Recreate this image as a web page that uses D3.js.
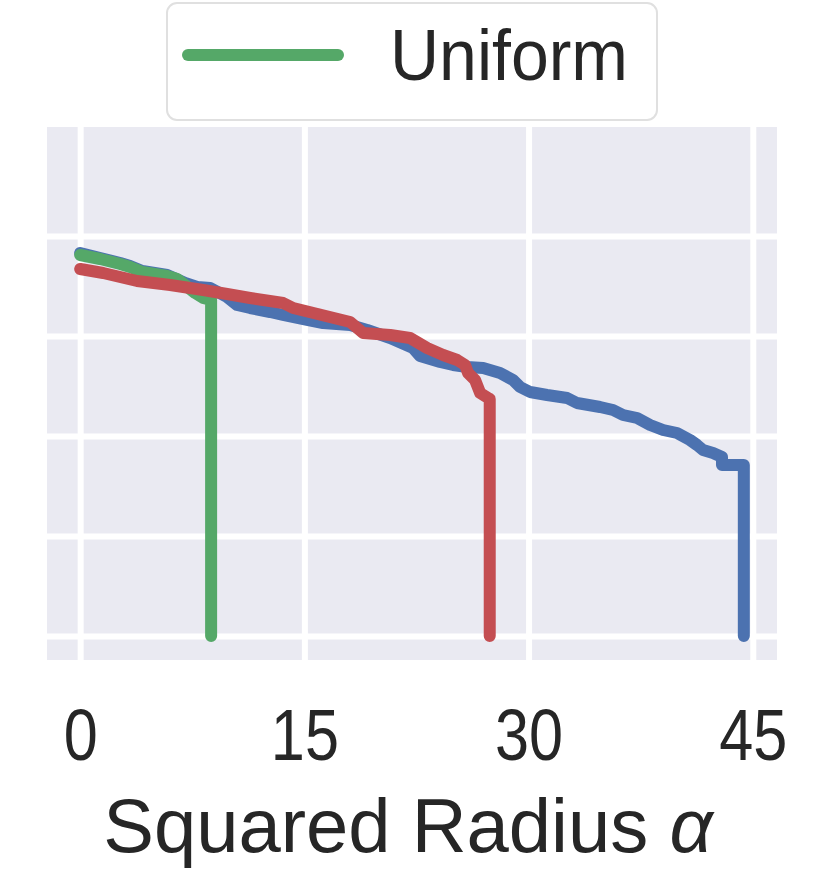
<html>
<head>
  <style type="text/css">
    body { margin: 0; background: #fff; }
    text { font-family: "Liberation Sans", Arial, sans-serif; fill: #262626; }
  </style>
</head>
<body>
  <div id="viz"></div>
  <script src="https://cdnjs.cloudflare.com/ajax/libs/d3/7.8.5/d3.min.js"></script>
  <script>
  // x ticks and y grid values
  const xTicks = [0, 15, 30, 45];
  const yTicks = [0, 0.2, 0.4, 0.6, 0.8];

  // blue series (squared radius, value)
  const blueX = [0, 1.34, 2.68, 3.34, 4.15, 5.82, 7.02, 7.83, 8.70, 9.83, 10.50, 11.37, 12.71, 13.58,
    15.18, 16.25, 18.06, 19.20, 20.74, 22.27, 22.74, 24.08, 24.95, 25.89, 26.96, 28.09, 28.96,
    29.43, 30.10, 31.24, 32.58, 33.24, 34.78, 35.65, 36.32, 37.26, 38.13, 39.00, 39.93, 40.80,
    41.27, 41.67, 42.34, 42.94, 42.94, 44.40, 44.40];
  const blueY = [0.766, 0.756, 0.746, 0.740, 0.730, 0.722, 0.706, 0.698, 0.696, 0.678, 0.662, 0.656,
    0.648, 0.642, 0.632, 0.626, 0.622, 0.612, 0.596, 0.576, 0.560, 0.548, 0.542, 0.538, 0.536,
    0.526, 0.512, 0.498, 0.488, 0.482, 0.476, 0.466, 0.458, 0.452, 0.442, 0.436, 0.422, 0.412,
    0.406, 0.392, 0.382, 0.372, 0.366, 0.358, 0.342, 0.342, 0];

  // green series: Uniform
  const greenX = [0, 1.34, 2.68, 3.34, 4.15, 5.82, 6.49, 7.02, 7.69, 8.23, 8.76, 8.76];
  const greenY = [0.762, 0.754, 0.744, 0.738, 0.728, 0.720, 0.714, 0.702, 0.686, 0.676, 0.672, 0];

  // red series
  const redX = [0, 1.54, 3.81, 6.02, 8.23, 9.83, 11.37, 13.58, 14.25, 18.06, 18.93, 20.74, 22.07,
    23.21, 24.28, 25.22, 25.75, 25.95, 26.42, 26.76, 27.29, 27.40, 27.40];
  const redY = [0.734, 0.726, 0.710, 0.702, 0.692, 0.684, 0.676, 0.666, 0.656, 0.628, 0.606, 0.602,
    0.596, 0.576, 0.562, 0.552, 0.542, 0.526, 0.512, 0.486, 0.476, 0.474, 0];

  const series = [
    { xs: blueX, ys: blueY, color: '#4c72b0' },
    { xs: greenX, ys: greenY, color: '#55a868' },
    { xs: redX, ys: redY, color: '#c44e52' }
  ];

  const width = 827, height = 873;
  const plot = { left: 47, right: 777, top: 127, bottom: 660 };

  const svg = d3.select('#viz').append('svg')
    .attr('width', width)
    .attr('height', height);

  const x = d3.scaleLinear()
    .domain([-2.22, 46.62])
    .range([plot.left, plot.right]);

  const y = d3.scaleLinear()
    .domain([-0.048, 1.018])
    .range([plot.bottom, plot.top]);

  // background
  svg.append('rect')
    .attr('x', plot.left)
    .attr('y', plot.top)
    .attr('width', plot.right - plot.left)
    .attr('height', plot.bottom - plot.top)
    .attr('fill', '#eaeaf2');

  // grid
  const xGrid = svg.append('g')
    .attr('transform', 'translate(0,' + plot.bottom + ')')
    .call(d3.axisBottom(x).tickValues(xTicks).tickSize(-(plot.bottom - plot.top)).tickFormat(''));
  const yGrid = svg.append('g')
    .attr('transform', 'translate(' + plot.left + ',0)')
    .call(d3.axisLeft(y).tickValues(yTicks).tickSize(-(plot.right - plot.left)).tickFormat(''));
  [xGrid, yGrid].forEach((g) => {
    g.select('.domain').remove();
    g.selectAll('line').attr('stroke', '#fff').attr('stroke-width', 6);
  });

  // lines
  const line = d3.line()
    .x((d) => x(d[0]))
    .y((d) => y(d[1]));

  series.forEach((s) => {
    svg.append('path')
      .datum(s.xs.map((v, i) => [v, s.ys[i]]))
      .attr('d', line)
      .attr('fill', 'none')
      .attr('stroke', s.color)
      .attr('stroke-width', 12)
      .attr('stroke-linecap', 'round')
      .attr('stroke-linejoin', 'round');
  });

  // x tick labels (narrow digits as in the original)
  const xAxis = svg.append('g')
    .attr('transform', 'translate(0,' + plot.bottom + ')')
    .call(d3.axisBottom(x).tickValues(xTicks).tickSize(0).tickFormat(d3.format('d')));
  xAxis.select('.domain').remove();
  xAxis.selectAll('text')
    .attr('y', 100)
    .attr('dy', 0)
    .attr('transform', 'scale(0.85,1)')
    .attr('fill', '#262626')
    .style('font-size', '72px')
    .style('font-family', '"Liberation Sans", Arial, sans-serif');

  // x label
  const title = svg.append('text')
    .attr('x', 408)
    .attr('y', 852)
    .attr('text-anchor', 'middle')
    .style('font-size', '76px');
  title.append('tspan').text('Squared Radius ');
  title.append('tspan').style('font-style', 'italic').text('α');

  // legend
  const legend = svg.append('g');
  legend.append('rect')
    .attr('x', 167)
    .attr('y', 3)
    .attr('width', 490)
    .attr('height', 117)
    .attr('rx', 10)
    .attr('fill', '#fff')
    .attr('stroke', '#e0e0e0')
    .attr('stroke-width', 2);
  legend.append('line')
    .attr('x1', 188).attr('x2', 338)
    .attr('y1', 55).attr('y2', 55)
    .attr('stroke', '#55a868')
    .attr('stroke-width', 12)
    .attr('stroke-linecap', 'round');
  legend.append('text')
    .attr('x', 390)
    .attr('y', 80)
    .attr('textLength', 238)
    .attr('lengthAdjust', 'spacingAndGlyphs')
    .style('font-size', '72px')
    .text('Uniform');
  </script>
</body>
</html>
